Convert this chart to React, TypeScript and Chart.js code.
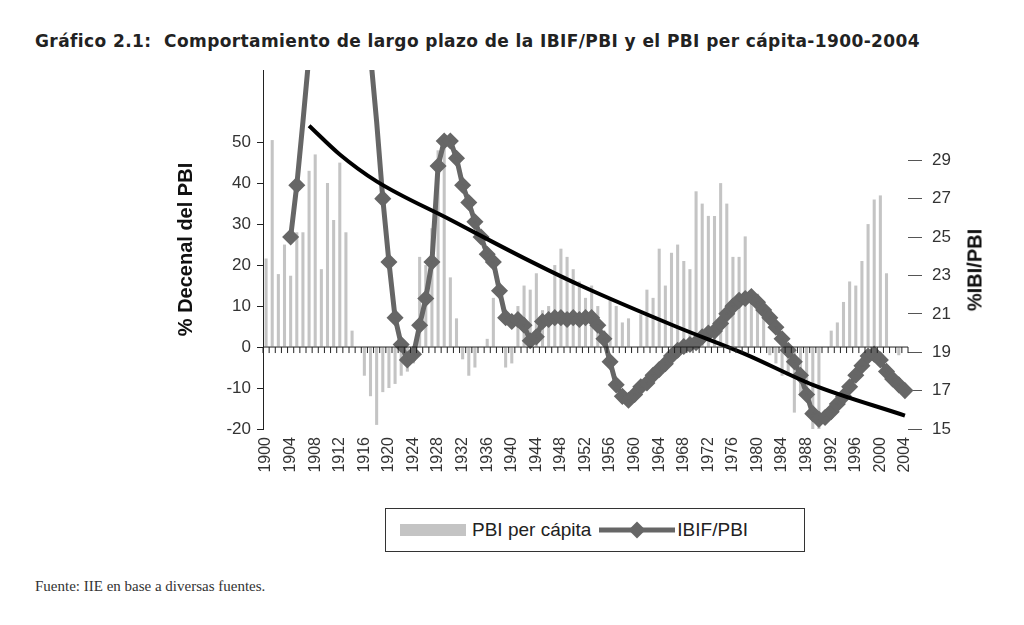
import React, { useEffect, useRef } from "react";
import { Chart, registerables } from "chart.js";
Chart.register(...registerables);

const years: string[] = [];
for (let y = 1900; y <= 2004; y++) years.push(String(y));

const pbiPerCapita = [
  21.6, 50.5, 17.8, 25, 17.4, 28, 28, 43, 47, 19, 40, 31, 45, 28, 4, 0, -7, -12, -19, -11,
  -10, -9, -7, -6, -4, 22, 20, 29, 48, 50, 17, 7, -3, -7, -5, 0, 2, 12, 0, -5,
  -4, 10, 15, 14, 18, 9, 10, 20, 24, 22, 19, 16, 12, 15, 10, 4, 12, 10, 6, 7,
  0, 8, 14, 12, 24, 15, 23, 25, 21, 19, 38, 35, 32, 32, 40, 35, 22, 22, 27, 13,
  13, 7, -2, -4, -7, -7, -16, -12, -13, -24, -24, 0, 4, 6, 11, 16, 15, 21, 30, 36,
  37, 18, 0, -2, 0,
];

const ibifPbi: (number | null)[] = [
  null, null, null, null, 25, 27.7, 31, 34.5, null, null, null, null, null, null, null, null, null, 34.5, 31, 27,
  23.7, 20.8, 19.4, 18.6, 18.9, 20.4, 21.8, 23.7, 28.7, 30, 30, 29.1, 27.7, 26.8, 25.8, 25, 24.1, 23.7, 22.2, 20.8,
  20.6, 20.7, 20.4, 19.6, 19.8, 20.6, 20.7, 20.8, 20.8, 20.7, 20.8, 20.7, 20.8, 20.8, 20.4, 19.7, 18.5, 17.3, 16.7, 16.5,
  16.8, 17.2, 17.4, 17.8, 18.1, 18.4, 18.8, 19.1, 19.3, 19.4, 19.5, 19.8, 20.0, 20.1, 20.5, 21.0, 21.4, 21.7, 21.8, 21.9,
  21.6, 21.2, 20.8, 20.3, 19.7, 19.1, 18.5, 17.8, 16.8, 15.8, 15.5, 15.6, 15.9, 16.3, 16.7, 17.2, 17.8, 18.3, 18.8, 18.9,
  18.6, 18.0, 17.6, 17.3, 17.0,
];

const trendYears = [1907, 1912, 1918, 1930, 1942, 1951, 1967, 1978, 1989, 2004];
const trendValues = [30.8, 29.3, 27.9, 25.9, 23.9, 22.5, 20.3, 18.9, 17.3, 15.7];

const leftTicks = [-20, -10, 0, 10, 20, 30, 40, 50];
const rightTicks = [15, 17, 19, 21, 23, 25, 27, 29];

const trendData = years.map((y) => {
  const i = trendYears.indexOf(Number(y));
  return i >= 0 ? trendValues[i] : null;
});

export default function App() {
  const ref = useRef<HTMLCanvasElement>(null);
  useEffect(() => {
    document.body.style.margin = "0";
    const zeroLine = {
      id: "zeroLine",
      afterDatasetsDraw(chart: any) {
        const { ctx, chartArea, scales } = chart;
        const y0 = scales.y.getPixelForValue(0);
        ctx.save();
        ctx.strokeStyle = "#222";
        ctx.lineWidth = 1;
        ctx.beginPath();
        ctx.moveTo(chartArea.left, y0);
        ctx.lineTo(chartArea.right, y0);
        const step = scales.x.getPixelForValue(1) - scales.x.getPixelForValue(0);
        for (let i = 0; i <= years.length; i++) {
          const x = scales.x.getPixelForValue(i) - step / 2;
          ctx.moveTo(x, y0);
          ctx.lineTo(x, y0 + 6);
        }
        ctx.stroke();
        ctx.restore();
      },
    };
    const chart = new Chart(ref.current!, {
      data: {
        labels: years,
        datasets: [
          {
            type: "line",
            label: "trend",
            data: trendData,
            yAxisID: "y1",
            borderColor: "#000",
            borderWidth: 4,
            pointRadius: 0,
            spanGaps: true,
            cubicInterpolationMode: "monotone",
            order: 0,
          },
          {
            type: "line",
            label: "IBIF/PBI",
            data: ibifPbi,
            yAxisID: "y1",
            borderColor: "#666",
            backgroundColor: "#666",
            borderWidth: 5,
            pointStyle: "rectRot",
            pointRadius: ibifPbi.map((v) => (v !== null && v > 30.5 ? 0 : 5)),
            spanGaps: false,
            order: 1,
          },
          {
            type: "bar",
            label: "PBI per cápita",
            data: pbiPerCapita,
            yAxisID: "y",
            backgroundColor: "#c4c4c4",
            barPercentage: 0.5,
            categoryPercentage: 1,
            order: 2,
          },
        ],
      } as any,
      options: {
        animation: false,
        responsive: false,
        layout: { padding: { left: 170, right: 30, top: 70, bottom: 0 } },
        plugins: { legend: { display: false }, tooltip: { enabled: false } },
        scales: {
          x: {
            offset: true,
            grid: { display: false, drawTicks: false },
            border: { display: false },
            ticks: {
              autoSkip: false,
              maxRotation: 90,
              minRotation: 90,
              color: "#333",
              font: { family: "Liberation Sans", size: 16 },
              padding: 8,
              callback: (_v: any, i: number) => ((1900 + i) % 4 === 0 ? String(1900 + i) : ""),
            },
            afterFit: (s: any) => { s.height = 66; },
          },
          y: {
            position: "left",
            min: -20,
            max: 67.6,
            afterBuildTicks: (s: any) => { s.ticks = leftTicks.map((v) => ({ value: v })); },
            grid: { drawOnChartArea: false, tickLength: 6, color: "#222" },
            border: { display: true, color: "#222" },
            ticks: { color: "#333", font: { family: "Liberation Sans", size: 17 }, padding: 6 },
            title: { display: true, text: "% Decenal del PBI", color: "#111", font: { family: "Liberation Sans", size: 20, weight: "bold" }, padding: 4 },
            afterFit: (s: any) => { s.width = 93; },
          },
          y1: {
            position: "right",
            min: 15,
            max: 33.7,
            afterBuildTicks: (s: any) => { s.ticks = rightTicks.map((v) => ({ value: v })); },
            grid: { drawOnChartArea: false, tickLength: 14, color: "#555", offset: false },
            border: { display: false },
            ticks: { color: "#333", font: { family: "Liberation Sans", size: 17 }, padding: 10 },
            afterFit: (s: any) => { s.width = 86; },
          },
        },
      } as any,
      plugins: [zeroLine],
    });
    return () => chart.destroy();
  }, []);

  return (
    <div style={{ position: "relative", width: 1024, height: 625, background: "#fff", fontFamily: "Liberation Sans, Arial, sans-serif" }}>
      <div style={{ position: "absolute", left: 35, top: 31, fontSize: 17, fontFamily: "DejaVu Sans", fontWeight: "bold", letterSpacing: 0.4, color: "#222", whiteSpace: "pre" }}>
        {"Gráfico 2.1:  Comportamiento de largo plazo de la IBIF/PBI y el PBI per cápita-1900-2004"}
      </div>
      <canvas ref={ref} width={1024} height={495} style={{ position: "absolute", left: 0, top: 0 }} />
      <div style={{ position: "absolute", left: 975, top: 270, transform: "translate(-50%, -50%) rotate(-90deg)", fontSize: 20, fontWeight: "bold", color: "#111", whiteSpace: "nowrap" }}>
        %IBI/PBI
      </div>
      <div style={{ position: "absolute", left: 385, top: 508, width: 420, height: 44, border: "1px solid #333", boxSizing: "border-box", display: "flex", alignItems: "center", fontSize: 19, color: "#222" }}>
        <div style={{ marginLeft: 14, width: 66, height: 12, background: "#c4c4c4" }} />
        <span style={{ marginLeft: 6 }}>PBI per cápita</span>
        <svg width="76" height="20" style={{ marginLeft: 8 }}>
          <line x1="0" y1="10" x2="76" y2="10" stroke="#666" strokeWidth="5" />
          <rect x="32" y="4" width="12" height="12" fill="#666" transform="rotate(45 38 10)" />
        </svg>
        <span style={{ marginLeft: 2 }}>IBIF/PBI</span>
      </div>
      <div style={{ position: "absolute", left: 35, top: 578, fontSize: 15, fontFamily: "Liberation Serif, serif", color: "#333" }}>
        Fuente: IIE en base a diversas fuentes.
      </div>
    </div>
  );
}
